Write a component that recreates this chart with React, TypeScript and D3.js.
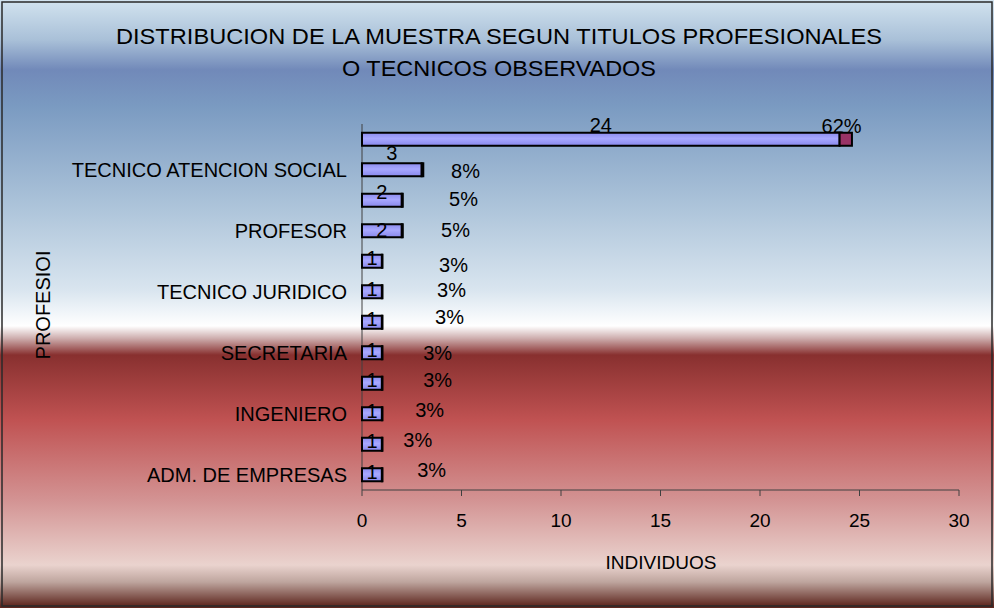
import React from "react";
import * as d3 from "d3";

// ---- data ----
const categories = [
  "cat1",
  "TECNICO ATENCION SOCIAL",
  "cat3",
  "PROFESOR",
  "cat5",
  "TECNICO JURIDICO",
  "cat7",
  "SECRETARIA",
  "cat9",
  "INGENIERO",
  "cat11",
  "ADM. DE EMPRESAS",
];
const shownLabel = [false, true, false, true, false, true, false, true, false, true, false, true];
const counts = [24, 3, 2, 2, 1, 1, 1, 1, 1, 1, 1, 1];
const percents = [0.62, 0.08, 0.05, 0.05, 0.03, 0.03, 0.03, 0.03, 0.03, 0.03, 0.03, 0.03];
const xTicks = [0, 5, 10, 15, 20, 25, 30];
const titleLines = [
  "DISTRIBUCION DE LA MUESTRA SEGUN TITULOS PROFESIONALES",
  "O TECNICOS OBSERVADOS",
];
const xTitle = "INDIVIDUOS";
const yTitle = "PROFESIOI";

// ---- label nudges (as placed in the original) ----
const countLabelDy = [-14, -17, -8, -1, -3, -3, -3, -3, -3, -3, -3, -3];
const pctLabelX = [24.1, 5.2, 5.1, 4.7, 4.6, 4.5, 4.4, 3.8, 3.8, 3.4, 2.8, 3.5];
const pctLabelDy = [-13, 1, -1, -1, 4, -2, -5, 0, -3, -4, -4, -5];

const W = 994;
const H = 608;
const FONT = "'Liberation Sans', Arial, sans-serif";

export default function App() {
  const x = d3.scaleLinear().domain([0, 30]).range([362, 959]);
  const y = d3
    .scaleBand<number>()
    .domain(d3.range(categories.length))
    .range([124, 490])
    .paddingInner(0)
    .paddingOuter(0);
  const bh = 13;
  const stack = categories.map((_, i) => ({
    i,
    c: counts[i],
    p: percents[i],
  }));

  const bgStops: [number, string][] = [
    [0, "#d2e3ef"],
    [40, "#a9c0d8"],
    [70, "#7189b9"],
    [105, "#7a9ac1"],
    [200, "#a9c1d8"],
    [290, "#d9e5ef"],
    [326, "#ffffff"],
    [338, "#cfb0b0"],
    [355, "#88302f"],
    [420, "#c05252"],
    [500, "#d39393"],
    [565, "#ead3ce"],
    [582, "#bea59e"],
    [606, "#5e271f"],
  ];

  const titleLens = [766, 314];

  return (
    <svg width={W} height={H} style={{ position: "absolute", left: 0, top: 0 }}>
      <defs>
        <linearGradient id="bg" x1="0" y1="0" x2="0" y2={H} gradientUnits="userSpaceOnUse">
          {bgStops.map(([o, c], k) => (
            <stop key={k} offset={o / H} stopColor={c} />
          ))}
        </linearGradient>
        <linearGradient id="barBlue" x1="0" y1="0" x2="0" y2="1">
          <stop offset="0" stopColor="#8c8cee" />
          <stop offset="0.45" stopColor="#a8a8ff" />
          <stop offset="1" stopColor="#8888ec" />
        </linearGradient>
      </defs>
      <rect x={0} y={0} width={W} height={H} fill="url(#bg)" />
      <rect x={2} y={2} width={W - 4} height={H - 4} fill="none" stroke="#2a2a2a" strokeWidth={1.5} />

      {/* title */}
      {titleLines.map((t, k) => (
        <text
          key={k}
          x={499}
          y={36 + k * 32}
          textAnchor="middle"
          dominantBaseline="central"
          fontFamily={FONT}
          fontSize={22}
          textLength={titleLens[k]}
          lengthAdjust="spacingAndGlyphs"
          fill="#000"
        >
          {t}
        </text>
      ))}

      {/* axes */}
      <line x1={x(0)} x2={x(0)} y1={124} y2={490} stroke="#404040" strokeWidth={1} />
      <line x1={x(0)} x2={x(30)} y1={490} y2={490} stroke="#404040" strokeWidth={1} />
      {xTicks.map((t) => (
        <g key={t}>
          <line x1={x(t)} x2={x(t)} y1={490} y2={496} stroke="#404040" strokeWidth={1} />
          <text
            x={x(t)}
            y={520}
            textAnchor="middle"
            dominantBaseline="central"
            fontFamily={FONT}
            fontSize={19}
          >
            {t}
          </text>
        </g>
      ))}

      {/* bars */}
      {stack.map((d) => {
        const cy = (y(d.i) as number) + y.bandwidth() / 2;
        return (
          <g key={d.i}>
            <rect
              x={x(0)}
              y={cy - bh / 2}
              width={x(d.c) - x(0)}
              height={bh}
              fill="url(#barBlue)"
              stroke="#000"
              strokeWidth={2}
            />
            <rect
              x={x(d.c)}
              y={cy - bh / 2}
              width={x(d.c + d.p) - x(d.c)}
              height={bh}
              fill="#993366"
              stroke="#000"
              strokeWidth={2}
            />
          </g>
        );
      })}

      {/* category labels */}
      {stack.map((d) =>
        shownLabel[d.i] ? (
          <text
            key={d.i}
            x={347}
            y={(y(d.i) as number) + y.bandwidth() / 2}
            textAnchor="end"
            dominantBaseline="central"
            fontFamily={FONT}
            fontSize={20}
          >
            {categories[d.i]}
          </text>
        ) : null
      )}

      {/* value labels */}
      {stack.map((d) => {
        const cy = (y(d.i) as number) + y.bandwidth() / 2;
        return (
          <g key={d.i} fontFamily={FONT} fontSize={20}>
            <text
              x={x(d.c / 2)}
              y={cy + countLabelDy[d.i]}
              textAnchor="middle"
              dominantBaseline="central"
            >
              {d.c}
            </text>
            <text
              x={x(pctLabelX[d.i])}
              y={cy + pctLabelDy[d.i]}
              textAnchor="middle"
              dominantBaseline="central"
            >
              {Math.round(d.p * 100) + "%"}
            </text>
          </g>
        );
      })}

      {/* axis titles */}
      <text
        x={661}
        y={562}
        textAnchor="middle"
        dominantBaseline="central"
        fontFamily={FONT}
        fontSize={19}
      >
        {xTitle}
      </text>
      <text
        transform="translate(43,305) rotate(-90)"
        textAnchor="middle"
        dominantBaseline="central"
        fontFamily={FONT}
        fontSize={20}
      >
        {yTitle}
      </text>
    </svg>
  );
}
